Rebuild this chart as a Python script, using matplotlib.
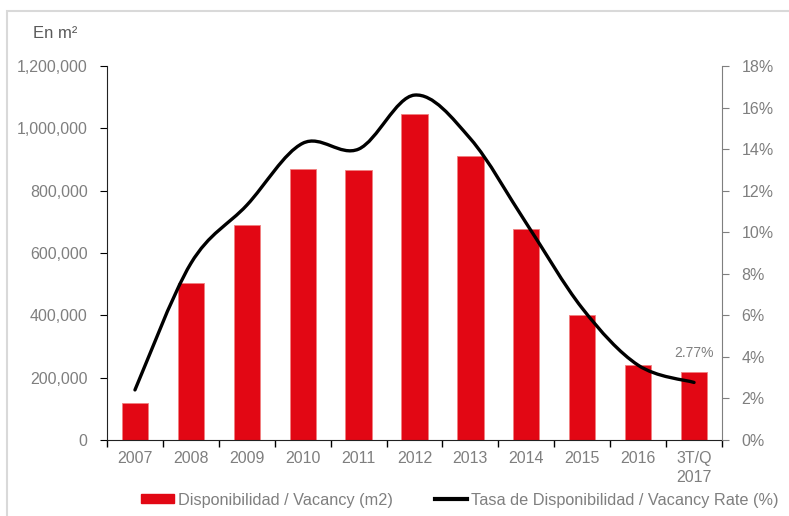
import numpy as np
import matplotlib
matplotlib.use('Agg')
import matplotlib.pyplot as plt
from matplotlib.path import Path
from matplotlib.patches import PathPatch, Rectangle
from matplotlib.lines import Line2D
from matplotlib.ticker import FuncFormatter

plt.rcParams['font.family'] = ['Liberation Sans', 'DejaVu Sans']

# Data
categories = ['2007', '2008', '2009', '2010', '2011', '2012', '2013', '2014',
              '2015', '2016', '3T/Q\n2017']
vacancy_m2 = [120000, 503000, 690000, 871000, 865000, 1046000, 910000, 677000,
              401000, 240000, 218000]
vacancy_rate = [2.41, 8.5, 11.3, 14.28, 14.0, 16.6, 14.5, 10.43, 6.34, 3.6, 2.77]

red = '#E20714'
gray = '#7F7F7F'

fig = plt.figure(figsize=(7.89, 5.16), dpi=100)
fig.patches.append(Rectangle((7 / 789, -0.1), 1.2, 1 - 11 / 516 + 0.1,
                             transform=fig.transFigure, fill=False,
                             edgecolor='#D9D9D9', linewidth=1.5))

ax = fig.add_axes([107 / 789, 1 - 440 / 516, 615 / 789, 374 / 516])
x = np.arange(len(categories))
ax.bar(x, vacancy_m2, width=0.47, color=red, edgecolor='#F08080', linewidth=0.6,
       zorder=2)
ax.set_xlim(-0.5, len(categories) - 0.5)
ax.set_ylim(0, 1200000)
ax.set_yticks(np.arange(0, 1200001, 200000))
ax.yaxis.set_major_formatter(FuncFormatter(lambda v, p: f'{int(v):,}'))
ax.set_xticks(x)
ax.set_xticklabels(categories, linespacing=1.35)
ax.set_xticks(np.arange(-0.5, len(categories), 1), minor=True)
ax.tick_params(axis='x', which='major', length=0, pad=8, labelsize=11.5,
               labelcolor=gray)
ax.tick_params(axis='x', which='minor', length=5, direction='out', width=1)
ax.tick_params(axis='y', length=5, direction='out', pad=9, labelsize=11.5,
               labelcolor=gray)
for s in ['top', 'right']:
    ax.spines[s].set_visible(False)
ax.spines['left'].set_color('#222222')
ax.spines['bottom'].set_color('#222222')

# smoothed line (Excel-style Catmull-Rom Bezier)
ax2 = ax.twinx()
ax2.set_ylim(0, 18)
ax2.set_yticks(np.arange(0, 19, 2))
ax2.yaxis.set_major_formatter(FuncFormatter(lambda v, p: f'{int(v)}%'))
ax2.tick_params(axis='y', length=5, direction='out', pad=9, labelsize=11.5,
                labelcolor=gray, color=gray)
for s in ['top', 'left', 'bottom']:
    ax2.spines[s].set_visible(False)
ax2.spines['right'].set_color(gray)

pts = np.column_stack([x, vacancy_rate]).astype(float)
verts = [pts[0]]
codes = [Path.MOVETO]
n = len(pts)
for i in range(n - 1):
    p0 = pts[max(i - 1, 0)]
    p1 = pts[i]
    p2 = pts[i + 1]
    p3 = pts[min(i + 2, n - 1)]
    c1 = p1 + (p2 - p0) / 6
    c2 = p2 - (p3 - p1) / 6
    verts += [c1, c2, p2]
    codes += [Path.CURVE4] * 3
ax2.add_patch(PathPatch(Path(verts, codes), facecolor='none', edgecolor='black',
                        linewidth=2.4, capstyle='round', zorder=3))
ax2.annotate(f'{vacancy_rate[-1]:.2f}%', (x[-1], vacancy_rate[-1]),
             xytext=(0, 18), textcoords='offset points', ha='center',
             color=gray, fontsize=10)

fig.text(33 / 789, 1 - 33 / 516, 'En m²', color='#595959', fontsize=12,
         va='center', ha='left')

handles = [Rectangle((0, 0), 1, 1, color=red),
           Line2D([0], [0], color='black', linewidth=3)]
fig.legend(handles, ['Disponibilidad / Vacancy (m2)',
                     'Tasa de Disponibilidad / Vacancy Rate (%)'],
           loc='center', bbox_to_anchor=(460 / 789, 1 - 500 / 516), ncol=2,
           frameon=False, fontsize=11.7, handlelength=2.0, handleheight=0.45,
           handletextpad=0.25, columnspacing=2.6, labelcolor=gray)

fig.savefig('out.png', dpi=100)
